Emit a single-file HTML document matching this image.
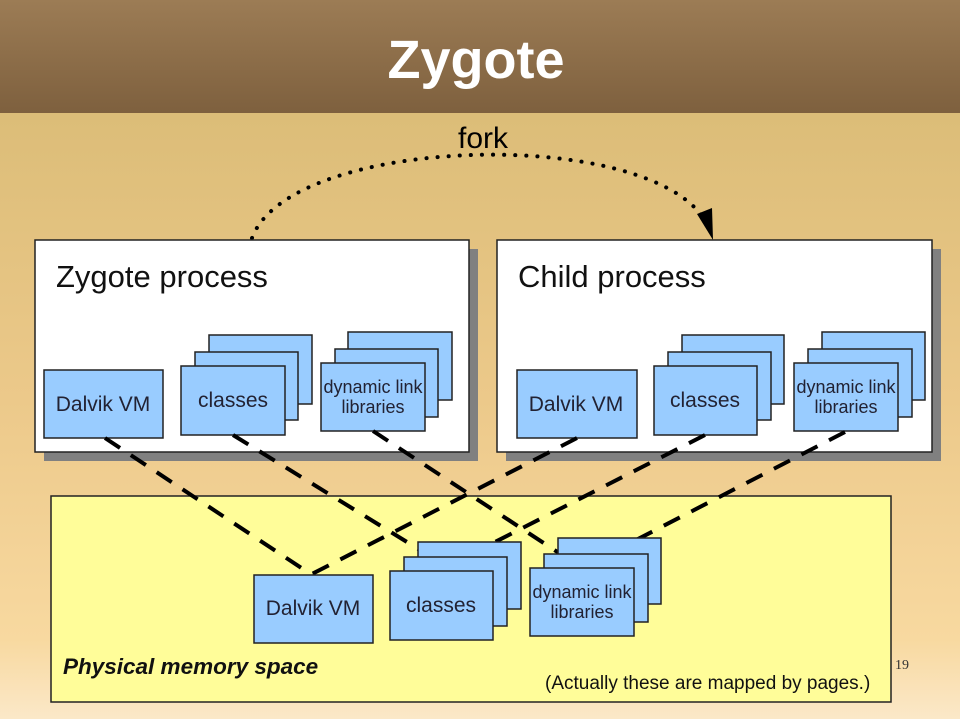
<!DOCTYPE html>
<html><head><meta charset="utf-8"><style>
html,body{margin:0;padding:0}
body{width:960px;height:719px;position:relative;overflow:hidden;font-family:"Liberation Sans",sans-serif;
background:linear-gradient(#dcbd78 115px,#ecc98a 400px,#f8d9a0 640px,#fbe8c8 719px)}
.hdr{position:absolute;left:0;top:0;width:960px;height:113px;background:linear-gradient(#9c7c55,#7e603e)}
</style></head><body>
<div class="hdr"></div>
<svg width="960" height="719" style="position:absolute;left:0;top:0" font-family="Liberation Sans, sans-serif">
<text x="476" y="78" text-anchor="middle" fill="#fff" font-size="54" font-weight="bold">Zygote</text>
<text x="483" y="148" text-anchor="middle" fill="#000" font-size="30">fork</text>
<path d="M252,238 C290,135 650,125 706,222" fill="none" stroke="#000" stroke-width="4" stroke-dasharray="0.1 11" stroke-linecap="round"/>
<polygon points="697,214 712,208 713,240" fill="#000"/>
<rect x="44" y="249" width="434" height="212" fill="#808080"/>
<rect x="35" y="240" width="434" height="212" fill="#fff" stroke="#222" stroke-width="1.5"/>
<rect x="506" y="249" width="435" height="212" fill="#808080"/>
<rect x="497" y="240" width="435" height="212" fill="#fff" stroke="#222" stroke-width="1.5"/>
<text x="56" y="287" font-size="31" fill="#111">Zygote process</text>
<text x="518" y="287" font-size="31" fill="#111">Child process</text>
<rect x="51" y="496" width="840" height="206" fill="#fffd99" stroke="#222" stroke-width="1.5"/>
<text x="63" y="674" font-size="22.5" font-weight="bold" font-style="italic" fill="#111">Physical memory space</text>
<text x="545" y="689" font-size="19" fill="#111">(Actually these are mapped by pages.)</text>
<text x="895" y="669" font-size="14" font-family="Liberation Serif, serif" fill="#333">19</text>
<g fill="#99ccff" stroke="#222" stroke-width="1.5">
<rect x="44" y="370" width="119" height="68"/>
<rect x="209" y="335" width="103" height="69"/><rect x="195" y="352" width="103" height="68"/><rect x="181" y="366" width="104" height="69"/>
<rect x="348" y="332" width="104" height="68"/><rect x="335" y="349" width="103" height="68"/><rect x="321" y="363" width="104" height="68"/>
<rect x="517" y="370" width="120" height="68"/>
<rect x="682" y="335" width="102" height="69"/><rect x="668" y="352" width="103" height="68"/><rect x="654" y="366" width="103" height="69"/>
<rect x="822" y="332" width="103" height="68"/><rect x="808" y="349" width="104" height="68"/><rect x="794" y="363" width="104" height="68"/>
</g>
<g stroke="#000" stroke-width="4" stroke-dasharray="18 13" fill="none">
<line x1="105" y1="438" x2="312" y2="575"/>
<line x1="233" y1="435" x2="420" y2="550"/>
<line x1="373" y1="431" x2="562" y2="555"/>
<line x1="577" y1="438" x2="310" y2="575"/>
<line x1="705" y1="435" x2="440" y2="570"/>
<line x1="845" y1="432" x2="582" y2="568"/>
</g>
<g fill="#99ccff" stroke="#222" stroke-width="1.5">
<rect x="254" y="575" width="119" height="68"/>
<rect x="418" y="542" width="103" height="67"/><rect x="404" y="557" width="103" height="69"/><rect x="390" y="571" width="103" height="69"/>
<rect x="558" y="538" width="103" height="66"/><rect x="544" y="554" width="104" height="68"/><rect x="530" y="568" width="104" height="68"/>
</g>
<g font-size="21" fill="#223" text-anchor="middle">
<text x="103" y="411">Dalvik VM</text><text x="233" y="407">classes</text>
<text x="576" y="411">Dalvik VM</text><text x="705" y="407">classes</text>
<text x="313" y="615">Dalvik VM</text><text x="441" y="612">classes</text>
</g>
<g font-size="18" fill="#223" text-anchor="middle">
<text x="373" y="393">dynamic link</text><text x="373" y="413">libraries</text>
<text x="846" y="393">dynamic link</text><text x="846" y="413">libraries</text>
<text x="582" y="598">dynamic link</text><text x="582" y="618">libraries</text>
</g>
</svg>
</body></html>
